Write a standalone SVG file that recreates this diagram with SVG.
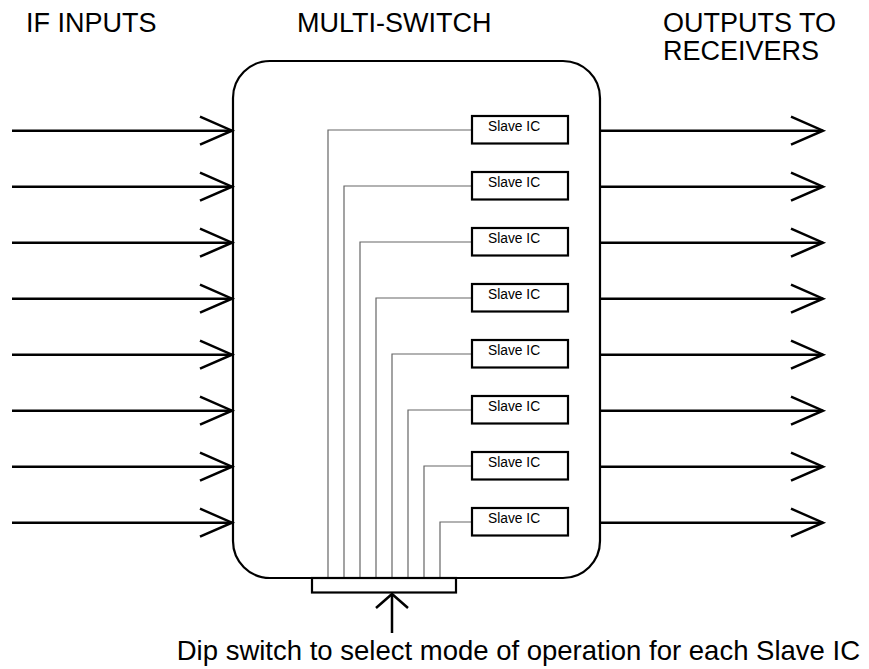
<svg xmlns="http://www.w3.org/2000/svg" width="869" height="669" viewBox="0 0 869 669">
<style>
  .lbl{font-family:"Liberation Sans",Arial,sans-serif;font-size:27px;fill:#000}
  .foot{font-size:27.5px;text-anchor:end}
  .ic{font-family:"Liberation Sans",Arial,sans-serif;font-size:13.8px;fill:#000}
  .box{fill:#fff;stroke:#000;stroke-width:2.2}
  .arr{fill:none;stroke:#000;stroke-width:2.5}
  .wire{fill:none;stroke:#666;stroke-width:1.2}
</style>
<defs>
  <marker id="open" markerUnits="userSpaceOnUse" markerWidth="40" markerHeight="34" refX="32" refY="15" orient="auto" overflow="visible">
    <path d="M0,1 L32,15 L0,29" fill="none" stroke="#000" stroke-width="2.5"/>
  </marker>
  <marker id="openUp" markerUnits="userSpaceOnUse" markerWidth="20" markerHeight="36" refX="14" refY="16" orient="auto" overflow="visible">
    <path d="M0,0 L14,16 L0,32" fill="none" stroke="#000" stroke-width="2.5"/>
  </marker>
</defs>
<rect width="869" height="669" fill="#fff"/>

<g id="labels">
  <text class="lbl" x="26" y="32">IF INPUTS</text>
  <text class="lbl" x="297" y="32">MULTI-SWITCH</text>
  <text class="lbl" x="663" y="32">OUTPUTS TO</text>
  <text class="lbl" x="663" y="60">RECEIVERS</text>
  <text class="lbl foot" x="860" y="660">Dip switch to select mode of operation for each Slave IC</text>
</g>

<g id="multiswitch">
  <rect class="box" x="233" y="61" width="367" height="517" rx="37" ry="37" stroke-width="2.5"/>
</g>

<g id="connectors">
  <g id="inputs">
    <line class="arr" x1="12" y1="130.7" x2="232" y2="130.7" marker-end="url(#open)"/>
    <line class="arr" x1="12" y1="186.7" x2="232" y2="186.7" marker-end="url(#open)"/>
    <line class="arr" x1="12" y1="242.7" x2="232" y2="242.7" marker-end="url(#open)"/>
    <line class="arr" x1="12" y1="298.7" x2="232" y2="298.7" marker-end="url(#open)"/>
    <line class="arr" x1="12" y1="354.7" x2="232" y2="354.7" marker-end="url(#open)"/>
    <line class="arr" x1="12" y1="410.7" x2="232" y2="410.7" marker-end="url(#open)"/>
    <line class="arr" x1="12" y1="466.7" x2="232" y2="466.7" marker-end="url(#open)"/>
    <line class="arr" x1="12" y1="522.7" x2="232" y2="522.7" marker-end="url(#open)"/>
  </g>
  <g id="outputs">
    <line class="arr" x1="600" y1="130.7" x2="823" y2="130.7" marker-end="url(#open)"/>
    <line class="arr" x1="600" y1="186.7" x2="823" y2="186.7" marker-end="url(#open)"/>
    <line class="arr" x1="600" y1="242.7" x2="823" y2="242.7" marker-end="url(#open)"/>
    <line class="arr" x1="600" y1="298.7" x2="823" y2="298.7" marker-end="url(#open)"/>
    <line class="arr" x1="600" y1="354.7" x2="823" y2="354.7" marker-end="url(#open)"/>
    <line class="arr" x1="600" y1="410.7" x2="823" y2="410.7" marker-end="url(#open)"/>
    <line class="arr" x1="600" y1="466.7" x2="823" y2="466.7" marker-end="url(#open)"/>
    <line class="arr" x1="600" y1="522.7" x2="823" y2="522.7" marker-end="url(#open)"/>
  </g>
  <g id="wires">
    <polyline class="wire" points="472,130 328,130 328,578"/>
    <polyline class="wire" points="472,186 344,186 344,578"/>
    <polyline class="wire" points="472,242 360,242 360,578"/>
    <polyline class="wire" points="472,298 376,298 376,578"/>
    <polyline class="wire" points="472,354 392,354 392,578"/>
    <polyline class="wire" points="472,410 408,410 408,578"/>
    <polyline class="wire" points="472,466 424,466 424,578"/>
    <polyline class="wire" points="472,522 440,522 440,578"/>
  </g>
  <line id="dip-arrow" class="arr" x1="392" y1="633" x2="392" y2="594" marker-end="url(#openUp)"/>
</g>

<g id="slave-ic-1"><rect class="box" x="472" y="116" width="96" height="27.5"/><text class="ic" x="488" y="131.3">Slave IC</text></g>
<g id="slave-ic-2"><rect class="box" x="472" y="172" width="96" height="27.5"/><text class="ic" x="488" y="187.3">Slave IC</text></g>
<g id="slave-ic-3"><rect class="box" x="472" y="228" width="96" height="27.5"/><text class="ic" x="488" y="243.3">Slave IC</text></g>
<g id="slave-ic-4"><rect class="box" x="472" y="284" width="96" height="27.5"/><text class="ic" x="488" y="299.3">Slave IC</text></g>
<g id="slave-ic-5"><rect class="box" x="472" y="340" width="96" height="27.5"/><text class="ic" x="488" y="355.3">Slave IC</text></g>
<g id="slave-ic-6"><rect class="box" x="472" y="396" width="96" height="27.5"/><text class="ic" x="488" y="411.3">Slave IC</text></g>
<g id="slave-ic-7"><rect class="box" x="472" y="452" width="96" height="27.5"/><text class="ic" x="488" y="467.3">Slave IC</text></g>
<g id="slave-ic-8"><rect class="box" x="472" y="508" width="96" height="27.5"/><text class="ic" x="488" y="523.3">Slave IC</text></g>

<g id="dip-switch">
  <rect class="box" x="312" y="578" width="144" height="14.5"/>
</g>
</svg>
